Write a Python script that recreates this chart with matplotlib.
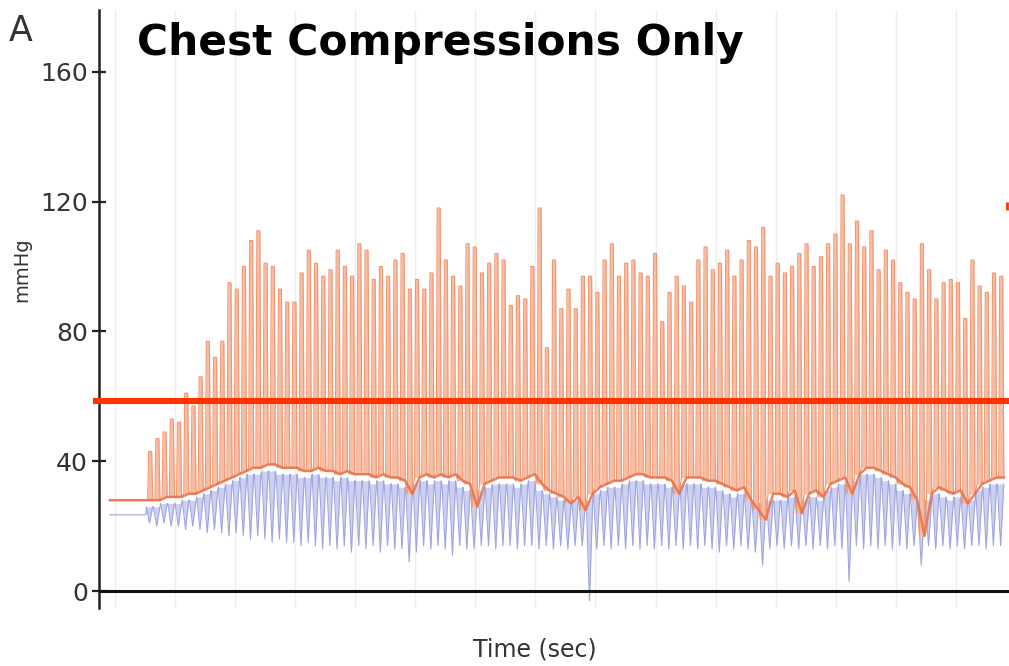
import numpy as np
import matplotlib
matplotlib.use("Agg")
import matplotlib.pyplot as plt

# ---------------- data ----------------
# arterial (orange) systolic peaks per compression, mmHg
aortic_peak = [43, 47, 49, 53, 52, 61, 57, 66, 77, 72, 77, 95, 93, 100, 108,
               111, 101, 100, 93, 89, 89, 98, 105, 101, 97, 99, 105, 100, 97, 107, 105, 96, 100,
               97, 102, 104, 93, 96, 93, 98, 118, 102, 97, 94, 107, 106, 98, 101, 104, 102,
               88, 91, 90, 100, 118, 75, 102, 87, 93, 87, 97, 97, 92, 102, 107, 97,
               101, 102, 98, 97, 104, 83, 92, 97, 94, 89, 102, 106, 99, 101, 105, 97, 102, 108,
               106, 112, 97, 101, 98, 100, 104, 107, 100, 103, 107, 110, 122, 107, 114, 106, 111, 99,
               105, 102, 95, 92, 90, 107, 99, 90, 95, 96, 95, 84, 102, 94, 92, 98, 97]
# arterial (orange) diastolic troughs per compression
aortic_trough = [28, 28, 29, 29, 29, 30, 30, 31, 32, 33, 34, 35, 36, 37, 38,
                 38, 39, 39, 38, 38, 38, 37, 37, 38, 37, 37, 36, 37, 36, 36,
                 36, 35, 36, 35, 35, 34, 30, 35, 36, 35, 36, 35, 36, 34, 33,
                 26, 33, 34, 35, 35, 35, 34, 35, 36, 33, 31, 30, 29, 27, 29,
                 25, 30, 32, 33, 34, 34, 35, 36, 36, 35, 35, 35, 34, 30, 35,
                 35, 35, 34, 34, 33, 32, 31, 32, 28, 25, 22, 30, 30, 29, 31,
                 24, 30, 31, 29, 33, 34, 35, 30, 36, 38, 38, 37, 36, 35, 33,
                 32, 28, 17, 30, 32, 31, 30, 31, 27, 30, 33, 34, 35, 35]
# right atrial (blue) upper level per compression
atrial_high = [26, 26, 27, 27, 27, 28, 28, 29, 30, 31, 32, 33, 34, 35, 36,
               36, 37, 37, 36, 36, 36, 35, 35, 36, 35, 35, 34, 35, 34, 34,
               34, 33, 34, 33, 33, 32, 31, 33, 34, 33, 34, 33, 34, 32, 31,
               30, 31, 32, 33, 33, 33, 32, 33, 34, 31, 30, 29, 28, 27, 28,
               28, 28, 30, 31, 32, 32, 33, 34, 34, 33, 33, 33, 32, 31, 33,
               33, 33, 32, 32, 31, 30, 29, 30, 28, 27, 27, 28, 28, 28, 29,
               28, 28, 29, 28, 31, 32, 33, 31, 34, 36, 36, 35, 34, 33, 31,
               30, 28, 26, 28, 30, 29, 28, 29, 28, 28, 31, 32, 33, 33]
# right atrial (blue) troughs per compression
atrial_low = [21, 20, 21, 20, 20, 19, 20, 19, 18, 19, 18, 17, 18, 17, 16,
              17, 16, 15, 16, 15, 15, 14, 15, 14, 13, 14, 13, 14, 12, 14,
              13, 14, 12, 14, 13, 13, 9, 12, 14, 13, 14, 13, 11, 14, 13,
              13, 14, 14, 13, 14, 14, 13, 14, 14, 13, 14, 13, 14, 13, 14,
              14, -3, 13, 14, 13, 14, 13, 14, 13, 14, 13, 14, 13, 14, 13,
              14, 13, 14, 13, 12, 14, 13, 14, 13, 12, 8, 13, 14, 13, 14,
              13, 14, 13, 14, 13, 14, 13, 3, 14, 13, 14, 13, 14, 13, 14,
              13, 14, 8, 14, 13, 14, 13, 14, 13, 14, 14, 13, 14, 14]
pre_cpr_aortic = 28.0     # flat pressure before compressions start
pre_cpr_atrial = 23.5
threshold = 58.5          # red reference line
y_ticks = [0, 40, 80, 120, 160]

# ---------------- layout / style ----------------
T0 = 2.75        # time of first compression (s)
PERIOD = 0.6     # compression period (s)
PRE_START = -0.4

fig = plt.figure(figsize=(10.09, 6.66), dpi=100)
ax = fig.add_axes([99 / 1009, 58 / 666, 910 / 1009, 598 / 666])

n = len(aortic_peak)
t = T0 + PERIOD * np.arange(n)
a_hi = np.array(aortic_peak, float)
a_lo = np.array(aortic_trough, float)
b_hi = np.array(atrial_high, float)
b_lo = np.array(atrial_low, float)

# orange waveform
ox = np.column_stack([t, t + 0.08, t + 0.33, t + 0.42]).ravel()
oy = np.column_stack([a_lo, a_hi, a_hi, a_lo]).ravel()
obase = np.column_stack([a_lo, a_lo, a_lo, a_lo]).ravel()
ox = np.concatenate([[PRE_START, T0 - 0.001], ox])
oy = np.concatenate([[pre_cpr_aortic, pre_cpr_aortic], oy])
obase = np.concatenate([[pre_cpr_aortic, pre_cpr_aortic], obase])

# blue waveform
bx = np.column_stack([t - 0.12, t + 0.15, t + 0.42]).ravel()
by = np.column_stack([b_hi, b_lo, b_hi]).ravel()
btop = np.column_stack([b_hi, b_hi, b_hi]).ravel()
bx = np.concatenate([[PRE_START, T0 - 0.13], bx])
by = np.concatenate([[pre_cpr_atrial, pre_cpr_atrial], by])
btop = np.concatenate([[pre_cpr_atrial, pre_cpr_atrial], btop])

ax.fill_between(bx, by, btop, color="#cdd1f1", lw=0, zorder=1)
ax.plot(bx, by, color="#a0a6de", lw=0.8, zorder=2)

ax.fill_between(ox, obase, oy, color="#f8bea4", lw=0, zorder=3)
ax.plot(ox, oy, color="#f29672", lw=0.8, zorder=4)
ax.plot(np.concatenate([[PRE_START, T0], t + 0.42]),
        np.concatenate([[pre_cpr_aortic, pre_cpr_aortic], a_lo]),
        color="#e6704a", lw=1.8, alpha=0.85, zorder=5)

# zero line and threshold line
ax.axhline(0, color="#111111", lw=2.2, zorder=6)
ax.plot([-0.007, 1.0], [threshold, threshold], transform=ax.get_yaxis_transform(),
        color="#ff3300", lw=4.4, clip_on=False, zorder=7, solid_capstyle="butt")
ax.plot([0.998, 0.998], [117.5, 120], transform=ax.get_yaxis_transform(),
        color="#ff3300", lw=2, clip_on=False, zorder=7, solid_capstyle="butt")

# axes styling
ax.set_xlim(-1.3, 74.4)
ax.set_ylim(-5.2, 179)
ax.set_yticks(y_ticks)
ax.set_yticklabels([str(v) for v in y_ticks], fontsize=18, color="#333333",
                   family="DejaVu Sans")
ax.tick_params(axis="y", direction="inout", length=10, width=1.6, pad=3, color="#222222")
ax.set_xticks(np.arange(0, 75, 5))
ax.tick_params(axis="x", length=0, labelbottom=False)
ax.grid(axis="x", color="#eeeeee", lw=1.0, zorder=0)
ax.set_axisbelow(True)
for s in ["top", "right", "bottom"]:
    ax.spines[s].set_visible(False)
ax.spines["left"].set_linewidth(1.8)
ax.spines["left"].set_color("#222222")

ax.set_ylabel("mmHg", fontsize=14, color="#333333", family="DejaVu Sans")
ax.yaxis.set_label_coords(-0.074, 0.565)
ax.set_xlabel("Time (sec)", fontsize=17, color="#333333", family="DejaVu Sans")
ax.xaxis.set_label_coords(0.479, -0.05)

fig.text(9 / 1009, 1 - 31 / 666, "A", fontsize=25, color="#333333",
         family="DejaVu Sans", va="center", ha="left")
fig.text(137 / 1009, 1 - 43 / 666, "Chest Compressions Only", fontsize=30.5,
         fontweight="bold", color="black", family="DejaVu Sans", va="center", ha="left")

fig.savefig("out.png", dpi=100)
